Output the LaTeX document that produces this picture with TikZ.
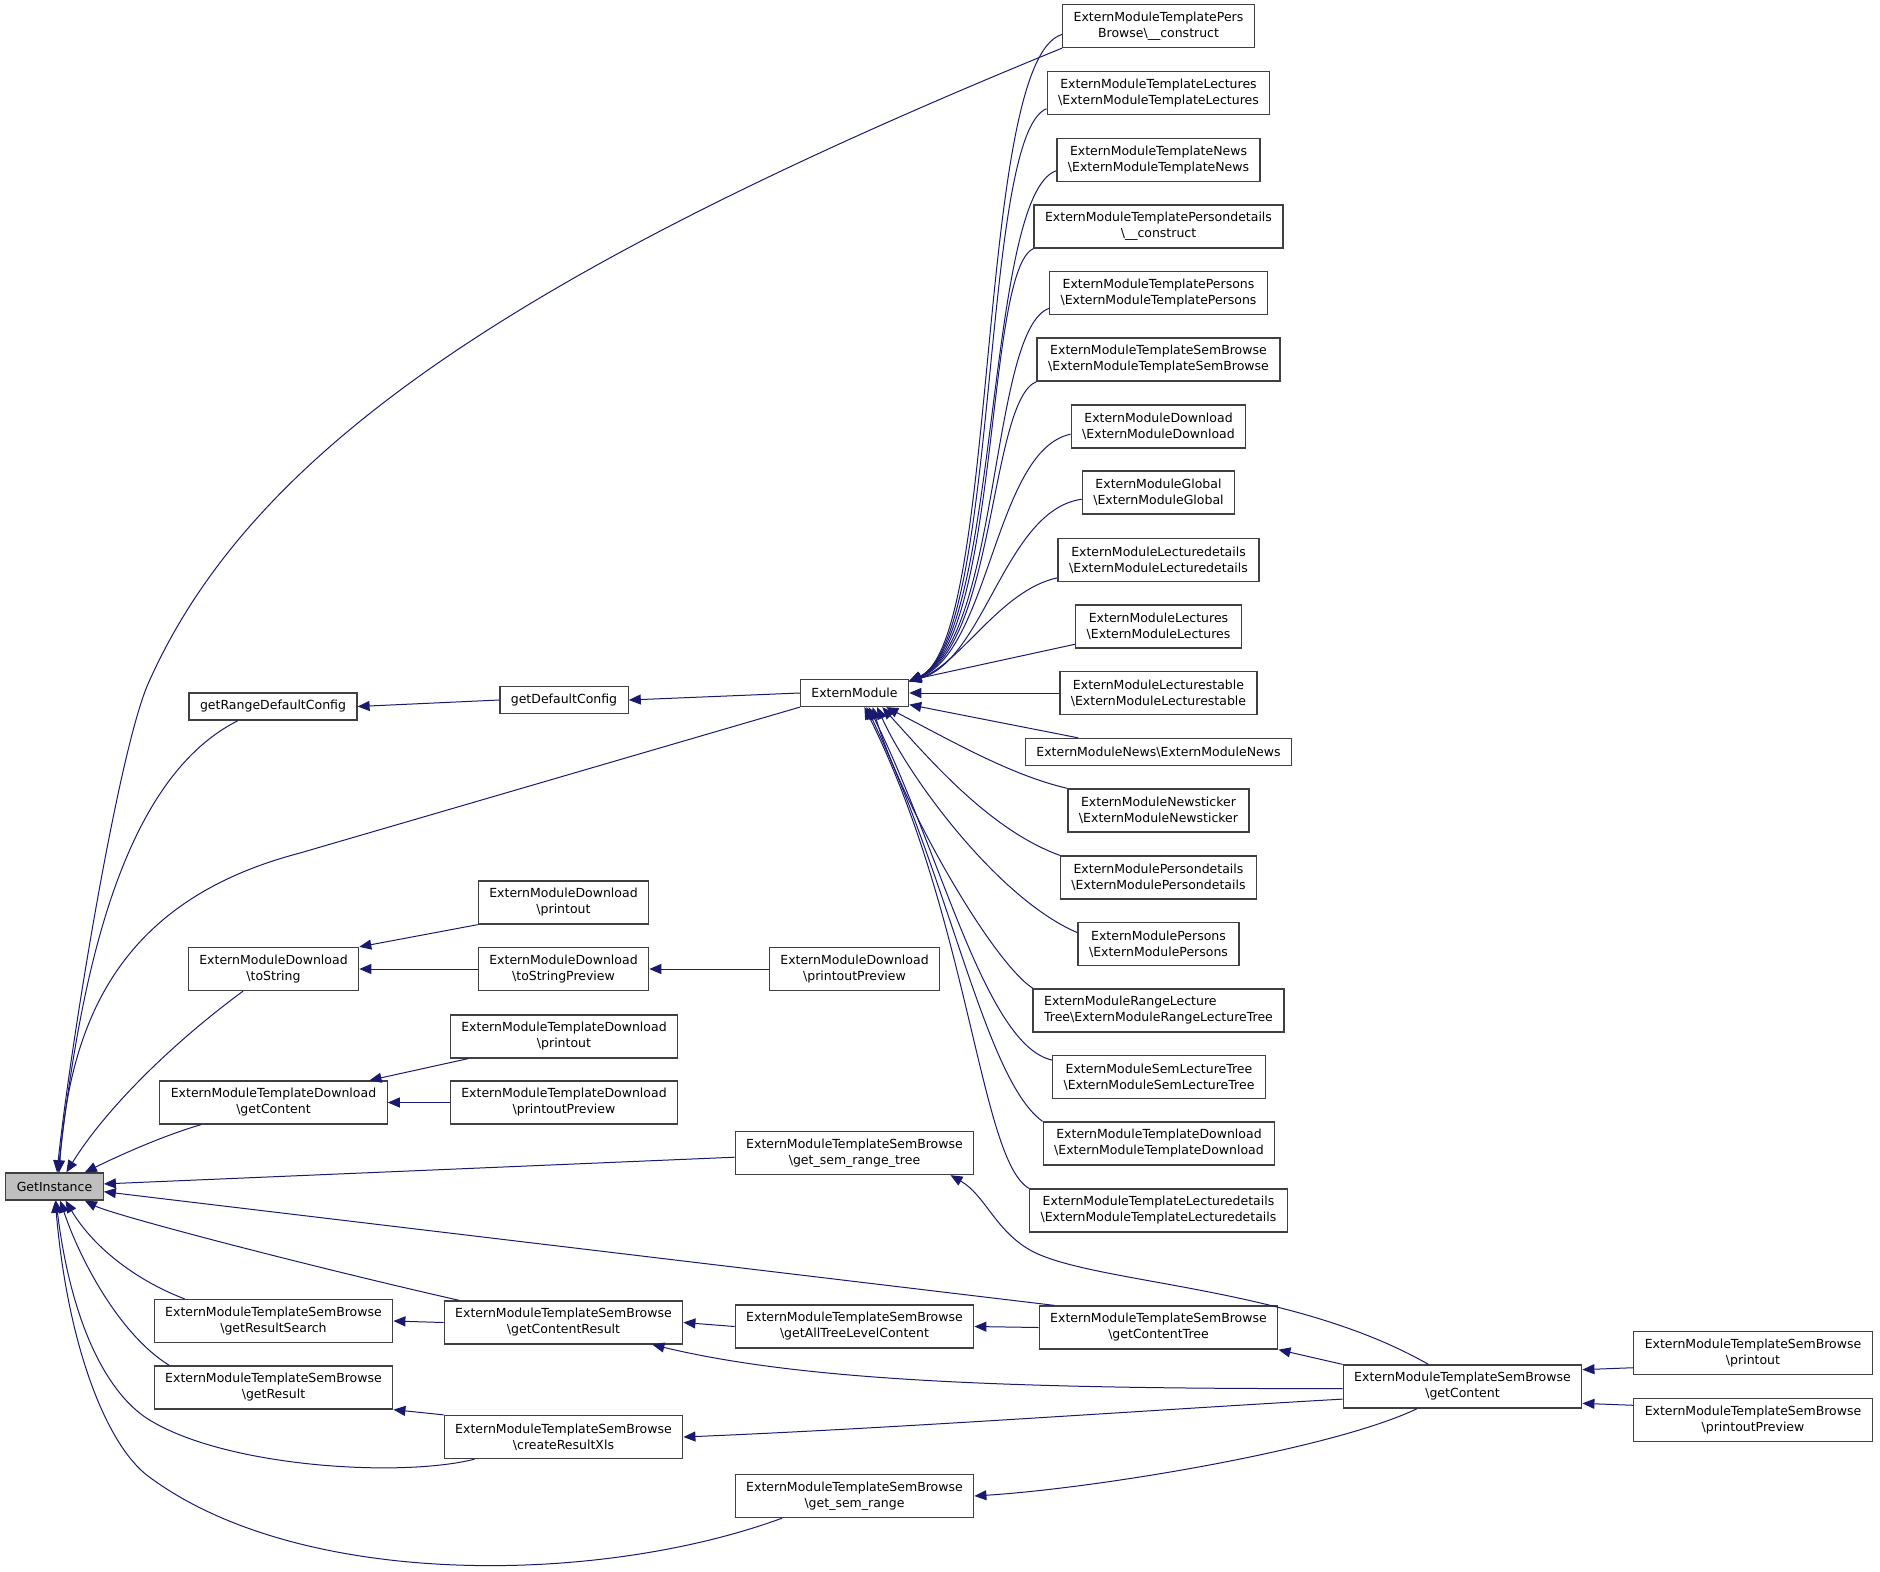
\documentclass[tikz,border=0pt]{standalone}
\usepackage{fontspec}
\setmainfont{DejaVu Sans}
\usepackage{tikz}
\usetikzlibrary{arrows.meta}

\definecolor{edgeblue}{HTML}{191970}
\definecolor{rootgray}{HTML}{BFBFBF}

\tikzset{
	func/.style={draw=black!75, line width=1.3pt, fill=white, inner xsep=11pt, inner ysep=0pt,
		minimum height=27pt, align=center, font=\fontsize{12.5}{16}\selectfont},
	func2/.style={func, minimum height=43pt},
	root/.style={func, fill=rootgray},
	callarr/.style={draw=edgeblue, line width=1pt, {Triangle[length=12pt,width=10pt]}-}
}

\begin{document}
\begin{tikzpicture}[x=1pt,y=-1pt]
		\useasboundingbox (0,0) rectangle (1880,1572);
%		\draw[help lines,step=100] (0,0) grid (1880,1572);

		% left part
		\node[root] (getinst) at (54.5,1186.5) {GetInstance};
		\node[func] (range_cfg) at (273,706.5) {getRangeDefaultConfig};
		\node[func] (default_cfg) at (564,700) {getDefaultConfig};
		\node[func] (ext_mod) at (854.5,693) {ExternModule};
		\node[func2] (dl_tostring) at (273.5,969) {ExternModuleDownload\\\textbackslash toString};
		\node[func2] (dl_printout) at (563.5,902.5) {ExternModuleDownload\\\textbackslash printout};
		\node[func2] (dl_tostr_prev) at (563.5,969) {ExternModuleDownload\\\textbackslash toStringPreview};
		\node[func2] (dl_print_prev) at (854.5,969) {ExternModuleDownload\\\textbackslash printoutPreview};
		\node[func2] (tdl_content) at (273.5,1102.5) {ExternModuleTemplateDownload\\\textbackslash getContent};
		\node[func2] (tdl_printout) at (564,1036.5) {ExternModuleTemplateDownload\\\textbackslash printout};
		\node[func2] (tdl_print_prev) at (564,1102.5) {ExternModuleTemplateDownload\\\textbackslash printoutPreview};
		\node[func2] (sb_range_tree) at (854.5,1153) {ExternModuleTemplateSemBrowse\\\textbackslash get\_sem\_range\_tree};
		\node[func2] (sb_search) at (273.5,1321) {ExternModuleTemplateSemBrowse\\\textbackslash getResultSearch};
		\node[func2] (sb_content_res) at (563.5,1322.5) {ExternModuleTemplateSemBrowse\\\textbackslash getContentResult};
		\node[func2] (sb_all_tree) at (854.5,1326.5) {ExternModuleTemplateSemBrowse\\\textbackslash getAllTreeLevelContent};
		\node[func2] (sb_content_tree) at (1158.5,1327.5) {ExternModuleTemplateSemBrowse\\\textbackslash getContentTree};
		\node[func2] (sb_result) at (273.5,1387.5) {ExternModuleTemplateSemBrowse\\\textbackslash getResult};
		\node[func2] (sb_xls) at (563.5,1437) {ExternModuleTemplateSemBrowse\\\textbackslash createResultXls};
		\node[func2] (sb_range) at (854.5,1496) {ExternModuleTemplateSemBrowse\\\textbackslash get\_sem\_range};
		\node[func2] (sb_content) at (1462.5,1386.5) {ExternModuleTemplateSemBrowse\\\textbackslash getContent};
		\node[func2] (sb_printout) at (1753,1353) {ExternModuleTemplateSemBrowse\\\textbackslash printout};
		\node[func2] (sb_print_prev) at (1753,1420) {ExternModuleTemplateSemBrowse\\\textbackslash printoutPreview};

		% right column
		\node[func2] (r_pers_browse) at (1158.5,26) {ExternModuleTemplatePers\\Browse\textbackslash\_\_construct};
		\node[func2] (r_tpl_lectures) at (1158.5,93) {ExternModuleTemplateLectures\\\textbackslash ExternModuleTemplateLectures};
		\node[func2] (r_tpl_news) at (1158.5,160) {ExternModuleTemplateNews\\\textbackslash ExternModuleTemplateNews};
		\node[func2] (r_tpl_persdet) at (1158.5,226.5) {ExternModuleTemplatePersondetails\\\textbackslash\_\_construct};
		\node[func2] (r_tpl_persons) at (1158.5,293) {ExternModuleTemplatePersons\\\textbackslash ExternModuleTemplatePersons};
		\node[func2] (r_tpl_sembrowse) at (1158.5,359.5) {ExternModuleTemplateSemBrowse\\\textbackslash ExternModuleTemplateSemBrowse};
		\node[func2] (r_download) at (1158.5,426.5) {ExternModuleDownload\\\textbackslash ExternModuleDownload};
		\node[func2] (r_global) at (1158.5,492.5) {ExternModuleGlobal\\\textbackslash ExternModuleGlobal};
		\node[func2] (r_lecdet) at (1158.5,560) {ExternModuleLecturedetails\\\textbackslash ExternModuleLecturedetails};
		\node[func2] (r_lectures) at (1158.5,626.5) {ExternModuleLectures\\\textbackslash ExternModuleLectures};
		\node[func2] (r_lectable) at (1158.5,693) {ExternModuleLecturestable\\\textbackslash ExternModuleLecturestable};
		\node[func] (r_news) at (1158.5,752) {ExternModuleNews\textbackslash ExternModuleNews};
		\node[func2] (r_newsticker) at (1158.5,810.5) {ExternModuleNewsticker\\\textbackslash ExternModuleNewsticker};
		\node[func2] (r_persdet) at (1158.5,877.5) {ExternModulePersondetails\\\textbackslash ExternModulePersondetails};
		\node[func2] (r_persons) at (1158.5,944) {ExternModulePersons\\\textbackslash ExternModulePersons};
		\node[func2,align=left] (r_range_tree) at (1158.5,1010.5) {ExternModuleRangeLecture\\Tree\textbackslash ExternModuleRangeLectureTree};
		\node[func2] (r_sem_tree) at (1159,1077) {ExternModuleSemLectureTree\\\textbackslash ExternModuleSemLectureTree};
		\node[func2] (r_tpl_download) at (1159,1143.5) {ExternModuleTemplateDownload\\\textbackslash ExternModuleTemplateDownload};
		\node[func2] (r_tpl_lecdet) at (1158.5,1210.5) {ExternModuleTemplateLecturedetails\\\textbackslash ExternModuleTemplateLecturedetails};

		% callers of GetInstance
		\draw[callarr] (getinst.80) .. controls (70,1048) and (118,753) .. (148,684)
			.. controls (249,455) and (507,275) .. (r_pers_browse.south west);
		\draw[callarr] (getinst.76) .. controls (80,980) and (120,780) .. (range_cfg.-158);
		\draw[callarr] (getinst.72) .. controls (70,1020) and (120,900) .. (300,853) -- (ext_mod.south west);
		\draw[callarr] (getinst.50) .. controls (105,1110) and (170,1045) .. (dl_tostring.-144);
		\draw[callarr] (getinst.25) .. controls (120,1155) and (165,1135) .. (tdl_content.-163);
		\draw[callarr] (getinst.3) -- (sb_range_tree.-178);
		\draw[callarr] (getinst.-6) -- (sb_content_tree.168);
		\draw[callarr] (getinst.-25) .. controls (113,1215) and (308,1266) .. (sb_content_res.168);
		\draw[callarr] (getinst.-52) .. controls (95,1250) and (140,1282) .. (sb_search.166);
		\draw[callarr] (getinst.-68) .. controls (80,1260) and (120,1335) .. (sb_result.168);
		\draw[callarr] (getinst.-84) .. controls (72,1330) and (110,1395) .. (148,1419)
			.. controls (224,1467) and (400,1478) .. (sb_xls.-166);
		\draw[callarr] (getinst.-87) .. controls (68,1350) and (108,1446) .. (148,1476)
			.. controls (300,1590) and (600,1585) .. (sb_range.-163);

		% inner calls
		\draw[callarr] (range_cfg.east) -- (default_cfg.west);
		\draw[callarr] (default_cfg.east) -- (ext_mod.west);
		\draw[callarr] (dl_tostring.north east) -- (dl_printout.south west);
		\draw[callarr] (dl_tostring.east) -- (dl_tostr_prev.west);
		\draw[callarr] (dl_tostr_prev.east) -- (dl_print_prev.west);
		\draw[callarr] (tdl_content.13) -- (tdl_printout.-167);
		\draw[callarr] (tdl_content.east) -- (tdl_print_prev.west);
		\draw[callarr] (sb_range_tree.-13) .. controls (985,1195) and (995,1230) .. (1030,1250)
			.. controls (1090,1284) and (1290,1285) .. (sb_content.147);
		\draw[callarr] (sb_search.east) -- (sb_content_res.west);
		\draw[callarr] (sb_content_res.east) -- (sb_all_tree.west);
		\draw[callarr] (sb_content_res.-14) .. controls (800,1380) and (1000,1389) .. (sb_content.-179);
		\draw[callarr] (sb_all_tree.east) -- (sb_content_tree.west);
		\draw[callarr] (sb_content_tree.south east) -- (sb_content.north west);
		\draw[callarr] (sb_result.south east) -- (sb_xls.north west);
		\draw[callarr] (sb_xls.east) .. controls (900,1428) and (1150,1410) .. (sb_content.-174);
		\draw[callarr] (sb_range.east) .. controls (1100,1488) and (1333,1449) .. (sb_content.-154);
		\draw[callarr] (sb_content.8) -- (sb_printout.-173);
		\draw[callarr] (sb_content.-8) -- (sb_print_prev.173);

		% callers of ExternModule
		\draw[callarr] (ext_mod.12) .. controls (1000,640) and (975,60) .. (r_pers_browse.-175);
		\draw[callarr] (ext_mod.12) .. controls (1000,640) and (980,135) .. (r_tpl_lectures.-172);
		\draw[callarr] (ext_mod.12) .. controls (1000,640) and (985,195) .. (r_tpl_news.-174);
		\draw[callarr] (ext_mod.12) .. controls (1000,640) and (985,270) .. (r_tpl_persdet.south west);
		\draw[callarr] (ext_mod.12) .. controls (1000,640) and (990,330) .. (r_tpl_persons.-172);
		\draw[callarr] (ext_mod.12) .. controls (995,645) and (990,400) .. (r_tpl_sembrowse.south west);
		\draw[callarr] (ext_mod.12) .. controls (990,650) and (995,450) .. (r_download.-175);
		\draw[callarr] (ext_mod.12) .. controls (985,660) and (1005,510) .. (r_global.-175);
		\draw[callarr] (ext_mod.12) .. controls (960,665) and (1000,590) .. (r_lecdet.-170);
		\draw[callarr] (ext_mod.13) -- (r_lectures.-168);
		\draw[callarr] (ext_mod.east) -- (r_lectable.west);
		\draw[callarr] (ext_mod.-12) -- (r_news.170);
		\draw[callarr] (ext_mod.-24) .. controls (950,740) and (1010,775) .. (r_newsticker.north west);
		\draw[callarr] (ext_mod.-27) .. controls (930,760) and (990,830) .. (r_persdet.north west);
		\draw[callarr] (ext_mod.-32) .. controls (910,780) and (1000,900) .. (r_persons.172);
		\draw[callarr] (ext_mod.-38) .. controls (900,800) and (990,960) .. (r_range_tree.170);
		\draw[callarr] (ext_mod.-45) .. controls (940,850) and (985,1045) .. (r_sem_tree.171);
		\draw[callarr] (ext_mod.-50) .. controls (950,880) and (985,1080) .. (r_tpl_download.north west);
		\draw[callarr] (ext_mod.-55) .. controls (970,920) and (980,1160) .. (r_tpl_lecdet.north west);
	\end{tikzpicture}
\end{document}
